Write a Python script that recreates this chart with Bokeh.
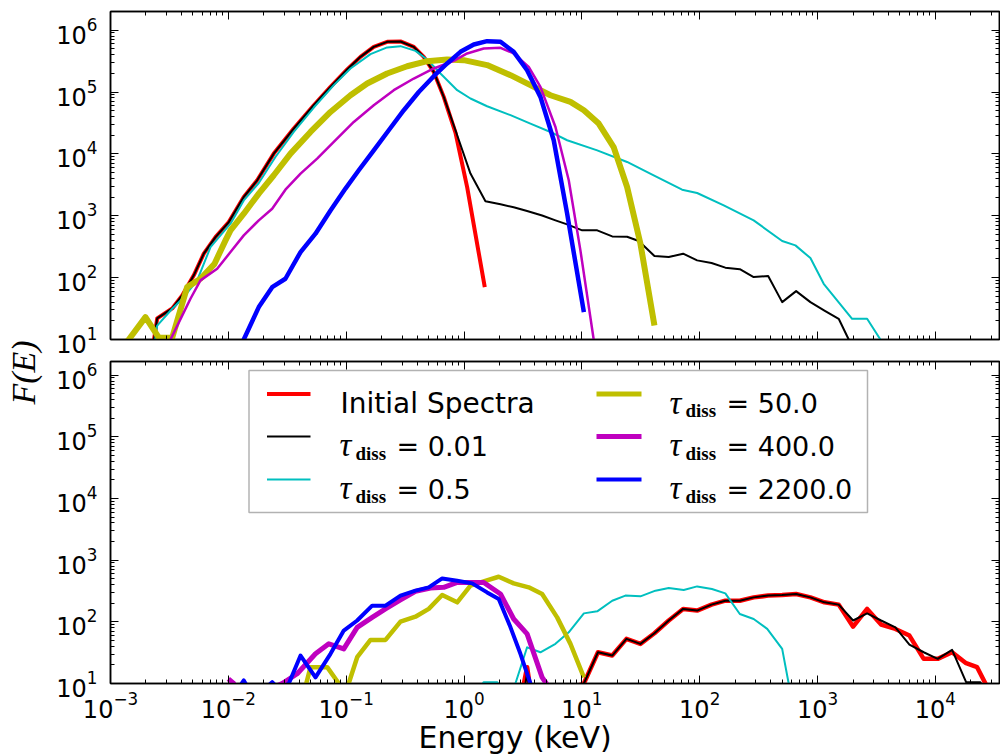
import math
from bokeh.plotting import figure
from bokeh.models import (Range1d, LogAxis, FixedTicker, Label, BoxAnnotation, ColumnDataSource,
                          CustomJSTickFormatter, Title)
from bokeh.layouts import row, column
from bokeh.embed import file_html
from bokeh.resources import INLINE

# ---------------- data ----------------
# top panel
top_red_E = [0.00225, 0.00249, 0.00334, 0.00406, 0.00509, 0.00619, 0.00778, 0.01009, 0.01352, 0.01757, 0.0243,
             0.0359, 0.0531, 0.0736, 0.102, 0.1322, 0.1714, 0.2227, 0.289, 0.3748, 0.4553, 0.5535, 0.673,
             0.846, 1.063, 1.50]
top_red_F = [6, 21.9, 31.8, 51.5, 109, 244, 452, 791, 2010, 3740, 10100, 25600, 61100, 121000, 231000,
             370000, 537000, 647000, 656000, 537000, 370000, 211000, 83400, 22000, 2900, 70.2]

top_blk_E = [0.00225, 0.00249, 0.00334, 0.00406, 0.00509, 0.00619, 0.00778, 0.01009, 0.01352, 0.01757, 0.0243,
             0.0359, 0.0531, 0.0736, 0.102, 0.1322, 0.1714, 0.2227, 0.289, 0.3748, 0.4553, 0.5535, 0.673,
             0.846, 1.134, 1.52, 2.04, 2.64, 3.43, 4.60, 5.97, 7.50, 10.06, 13.5, 18.1, 24.2, 30.4, 41.3, 54.6,
             72.3, 95.1, 126, 165, 219, 287, 381, 501, 658, 870, 1144, 1512, 1839, 2300]
top_blk_F = [6, 21.9, 31.8, 51.5, 109, 244, 452, 791, 2010, 3740, 10100, 25600, 61100, 121000, 231000,
             370000, 537000, 647000, 656000, 537000, 370000, 211000, 83400, 24100, 4800, 1710, 1530, 1370,
             1190, 1010, 843, 726, 581, 581, 464, 457, 390, 223, 215, 244, 190, 172, 145, 137, 102, 106, 40.2,
             60.5, 40.2, 29.4, 21.6, 10, 5]

top_cyn_E = [0.00235, 0.00249, 0.00334, 0.00419, 0.00544, 0.00706, 0.01043, 0.01352, 0.01813, 0.0251, 0.0359,
             0.0531, 0.0785, 0.1088, 0.1608, 0.2227, 0.289, 0.387, 0.4867, 0.631, 0.875, 1.134, 1.57, 2.48,
             3.66, 5.41, 7.50, 13.5, 24.2, 40.7, 70.9, 95.1, 160, 287, 501, 649, 870, 1128, 1965, 2634, 3416,
             4200]
top_cyn_F = [8, 16.8, 31.4, 48.3, 90.2, 312, 745, 1770, 3380, 8910, 22600, 56100, 129000, 240000, 409000,
             525000, 551000, 462000, 336000, 199000, 107000, 78500, 58900, 42200, 30900, 22600, 16600, 11400,
             7400, 4510, 2640, 2330, 1470, 843, 390, 332, 207, 79.6, 21.6, 21.6, 10, 5]

top_yel_E = [0.00128, 0.00143, 0.00198, 0.00257, 0.00334, 0.00447, 0.0058, 0.0076, 0.00946, 0.01043, 0.01352,
             0.01813, 0.0243, 0.0337, 0.0498, 0.0736, 0.1088, 0.1507, 0.2227, 0.3293, 0.4867, 0.719, 0.995,
             1.57, 2.48, 3.66, 5.41, 8.0, 10.4, 13.9, 18.6, 24.2, 31.4, 41.3]
top_yel_F = [8, 10, 23.0, 10.7, 10.7, 70.2, 95.9, 165, 400, 581, 1080, 2280, 4510, 10100, 22600, 47600, 88700,
             137000, 199000, 261000, 315000, 336000, 327000, 272000, 187000, 129000, 88700, 69200, 50800,
             30900, 12900, 2910, 354, 16.8]

top_mag_E = [0.00300, 0.00323, 0.0040, 0.00477, 0.0058, 0.00804, 0.01043, 0.01352, 0.01813, 0.02355, 0.0305,
             0.041, 0.0567, 0.0785, 0.116, 0.1714, 0.2534, 0.3748, 0.5535, 0.818, 1.063, 1.47, 2.04, 2.64,
             3.54, 4.45, 5.97, 7.74, 9.72, 12.6]
top_mag_F = [6, 10, 23, 45.6, 90.2, 139, 259, 482, 843, 1300, 2640, 4800, 8400, 15600, 32800, 61100, 107000,
             165000, 240000, 319000, 420000, 506000, 518000, 420000, 255000, 121000, 27200, 3740, 276, 10]

top_blu_E = [0.01250, 0.01352, 0.01813, 0.02355, 0.0305, 0.041, 0.0549, 0.0736, 0.0986, 0.1279, 0.1714,
             0.2298, 0.3083, 0.413, 0.5535, 0.719, 0.933, 1.21, 1.57, 2.04, 2.64, 3.43, 4.45, 5.77, 7.50, 10.4]
top_blu_F = [6, 10, 33.4, 70.2, 95.9, 259, 513, 1220, 2750, 5430, 11400, 24100, 50800, 100000, 180000, 289000,
             446000, 587000, 664000, 647000, 446000, 225000, 83400, 16600, 1080, 27.7]

# bottom panel
bot_red_E = [3.0, 3.43, 3.8, 10.4, 13.7, 18.1, 23.9, 31.4, 41.3, 54.6, 72.3, 95.1, 126, 165, 219, 287, 381,
             501, 658, 870, 1144, 1512, 2004, 2634, 3462, 4578, 6020, 7960, 10460, 13860, 18230, 22600,
             26600, 30000]
bot_red_F = [5, 18.4, 5, 10, 32.1, 28.4, 52.9, 43.9, 65.2, 105, 162, 152, 190, 220, 220, 249, 266, 272, 282,
             249, 207, 190, 83.5, 162, 90.2, 76.7, 59.8, 25.1, 25.1, 32.1, 21.3, 18.4, 10, 5]

bot_blk_E = [3.15, 3.43, 3.7, 10.4, 13.7, 18.1, 23.9, 31.4, 41.3, 54.6, 72.3, 95.1, 126, 165, 219, 287, 381,
             501, 658, 870, 1144, 1512, 2004, 2634, 3462, 4578, 6020, 7960, 10460, 13860, 18230, 24100, 29300]
bot_blk_F = [5, 15, 5, 10, 32.1, 28.4, 52.9, 43.9, 65.2, 105, 162, 152, 190, 220, 220, 249, 266, 272, 282,
             249, 207, 190, 105, 137, 105, 81.4, 42.7, 32.1, 25.1, 35.1, 10.5, 10.5, 5]

bot_cyn_E = [1.326, 1.47, 1.91, 2.12, 2.48, 2.73, 3.43, 4.45, 5.97, 7.74, 10.4, 13.5, 18.1, 23.4, 31.4, 42.1,
             54.6, 73.2, 95.1, 127, 165, 219, 287, 374, 501, 569, 650]
bot_cyn_F = [8, 10.5, 10.5, 8, 7, 10, 38.6, 32.1, 43.9, 67.6, 137, 148, 220, 266, 259, 320, 354, 328, 375,
             340, 289, 134, 111, 76.7, 36.4, 10, 5]

bot_yel_E = [0.041, 0.0452, 0.0498, 0.069, 0.0866, 0.0948, 0.105, 0.124, 0.1608, 0.2156, 0.289, 0.387,
             0.502, 0.6525, 0.875, 1.134, 1.47, 1.97, 2.64, 3.54, 4.60, 6.17, 8.0, 10.4]
bot_yel_F = [5, 9, 18.4, 18.4, 10, 7, 10, 26.7, 50.9, 50.9, 101, 121, 162, 272, 207, 385, 452, 538, 420, 362,
             282, 118, 43.9, 12.6]

bot_mag_E = [0.0100, 0.0111, 0.0125, 0.0286, 0.0384, 0.0549, 0.0712, 0.0954, 0.124, 0.1662, 0.2156, 0.289,
             0.387, 0.519, 0.673, 0.875, 1.134, 1.47, 2.04, 2.64, 3.43, 4.60, 4.99, 5.5]
bot_mag_F = [11.9, 10, 5, 10, 14.4, 30.3, 43.9, 36.4, 81.4, 118, 162, 226, 312, 354, 362, 435, 435, 435, 282,
             111, 63.7, 12.6, 10, 5]

bot_blu_E = [0.0120, 0.01352, 0.0150, 0.0200, 0.02355, 0.0270, 0.0326, 0.041, 0.0549, 0.0736, 0.0954, 0.124,
             0.1662, 0.2156, 0.289, 0.387, 0.502, 0.6525, 0.875, 1.172, 1.57, 1.97, 2.48, 3.01, 3.66, 4.45]
bot_blu_F = [8, 11.2, 8, 8, 10.5, 8, 10, 28.4, 12.6, 30.3, 72.1, 105, 183, 183, 266, 320, 362, 505, 464, 420,
             300, 235, 81.4, 30.3, 10, 5]

legend_labels = ["Initial Spectra", "0.01", "0.5", "50.0", "400.0", "2200.0"]
x_ticks = [1e-3, 1e-2, 1e-1, 1e0, 1e1, 1e2, 1e3, 1e4]
y_ticks = [1e1, 1e2, 1e3, 1e4, 1e5, 1e6]

# ---------------- styling ----------------
RED, BLK, CYN, YEL, MAG, BLU = "#ff0000", "#000000", "#00bfbf", "#bfbf00", "#bf00bf", "#0000ff"
X_RANGE = (1e-3, 3.5e4)
Y_RANGE_TOP = (10, 2.0e6)
Y_RANGE_BOT = (10, 1.66e6)
x_minor = [m * 10.0 ** k for k in range(-3, 5) for m in range(2, 10)]
y_minor = [m * 10.0 ** k for k in range(1, 7) for m in range(2, 10)]

PANEL_W = 955
ML = 65


def tick_style(ax):
    ax.axis_line_color = "black"
    ax.axis_line_width = 1.5
    ax.major_tick_in = 8
    ax.major_tick_out = 0
    ax.minor_tick_in = 4
    ax.minor_tick_out = 0
    ax.major_tick_line_color = "black"
    ax.minor_tick_line_color = "black"
    ax.major_tick_line_width = 1
    ax.minor_tick_line_width = 1
    ax.major_label_text_color = "black"
    ax.major_label_text_font = "DejaVu Sans"


def hide_labels(ax):
    ax.formatter = CustomJSTickFormatter(code="return '';")
    ax.major_label_text_font_size = "2px"
    ax.major_label_standoff = 0


def make_panel(height, top_b, bot_b, y_range, show_x_labels):
    p = figure(width=PANEL_W, height=height, x_axis_type="log", y_axis_type="log",
               x_range=Range1d(*X_RANGE), y_range=Range1d(*y_range),
               output_backend="svg", toolbar_location=None,
               min_border_left=ML, min_border_right=1, min_border_top=top_b, min_border_bottom=bot_b)
    p.add_layout(LogAxis(), "above")
    p.add_layout(LogAxis(), "right")
    p.xgrid.visible = False
    p.ygrid.visible = False
    p.outline_line_color = "black"
    p.outline_line_width = 1.5
    p.background_fill_color = "white"
    for ax in p.xaxis:
        ax.ticker = FixedTicker(ticks=x_ticks, minor_ticks=x_minor)
        tick_style(ax)
    for ax in p.yaxis:
        ax.ticker = FixedTicker(ticks=y_ticks, minor_ticks=y_minor)
        tick_style(ax)
    hide_labels(p.above[0])
    hide_labels(p.right[0])
    left = p.left[0]
    left.major_label_text_font_size = "24px"
    left.major_label_standoff = 13
    below = p.below[0]
    if show_x_labels:
        below.major_label_text_font_size = "24px"
        below.major_label_standoff = 7
    else:
        hide_labels(below)
    return p


def draw(p, E, F, color, width):
    p.line(E, F, line_color=color, line_width=width, line_join="round")


top = make_panel(360, 11, 21, Y_RANGE_TOP, False)
draw(top, top_red_E, top_red_F, RED, 4)
draw(top, top_blk_E, top_blk_F, BLK, 2)
draw(top, top_cyn_E, top_cyn_F, CYN, 2)
draw(top, top_yel_E, top_yel_F, YEL, 6)
draw(top, top_mag_E, top_mag_F, MAG, 2.5)
draw(top, top_blu_E, top_blu_F, BLU, 4.5)

bot = make_panel(395, 1, 72, Y_RANGE_BOT, True)
draw(bot, bot_red_E, bot_red_F, RED, 4.5)
draw(bot, bot_blk_E, bot_blk_F, BLK, 2)
draw(bot, bot_cyn_E, bot_cyn_F, CYN, 2)
draw(bot, bot_yel_E, bot_yel_F, YEL, 4.5)
draw(bot, bot_mag_E, bot_mag_F, MAG, 5)
draw(bot, bot_blu_E, bot_blu_F, BLU, 4)

# x-axis title, centred on the whole figure as in the original (left of the frame centre)
bot.add_layout(Title(text="Energy (keV)", align="left", offset=308, standoff=-5,
                     text_font="DejaVu Sans", text_font_style="normal", text_font_size="30px",
                     text_color="black", text_line_height=1.0), "below")

# ---------------- manual legend (page pixels -> data coords of bottom panel) ----------------
FR_L, FR_R, FR_T, FR_B = 110, 999, 361, 683
LX0, LX1 = math.log10(X_RANGE[0]), math.log10(X_RANGE[1])
LY0, LY1 = math.log10(Y_RANGE_BOT[0]), math.log10(Y_RANGE_BOT[1])


def x_of(px):
    return 10 ** (LX0 + (px - FR_L) / (FR_R - FR_L) * (LX1 - LX0))


def y_of(py):
    return 10 ** (LY0 + (FR_B - py) / (FR_B - FR_T) * (LY1 - LY0))


bot.add_layout(BoxAnnotation(left=x_of(248.5), right=x_of(867), top=y_of(370), bottom=y_of(512),
                             fill_color="white", fill_alpha=1.0, line_color="black", line_width=1.5))

leg_colors = [RED, BLK, CYN, YEL, MAG, BLU]
leg_widths = [4, 2, 2, 5, 5, 4]
row_c = [393.5, 436, 479]
col_line = [(266.5, 310), (596, 641)]
col_text = [339, 669]
seg = dict(x0=[], x1=[], y0=[], y1=[], c=[], w=[])
for i, lab in enumerate(legend_labels):
    ci, ri = divmod(i, 3)
    yc = row_c[ri]
    seg["x0"].append(x_of(col_line[ci][0]))
    seg["x1"].append(x_of(col_line[ci][1]))
    seg["y0"].append(y_of(yc))
    seg["y1"].append(y_of(yc))
    seg["c"].append(leg_colors[i])
    seg["w"].append(leg_widths[i])
    tx = col_text[ci]
    if i == 0:
        bot.add_layout(Label(x=x_of(tx + 1), y=y_of(yc + 9.5), text=lab, text_font="DejaVu Sans",
                             text_font_size="28px", text_color="black", text_baseline="alphabetic"))
    else:
        bot.add_layout(Label(x=x_of(tx), y=y_of(yc + 8.5), text="τ", text_font="Liberation Serif",
                             text_font_style="italic", text_font_size="33px", text_color="black",
                             text_baseline="alphabetic"))
        bot.add_layout(Label(x=x_of(tx + 16), y=y_of(yc + 16.5), text="diss", text_font="Liberation Serif",
                             text_font_style="bold", text_font_size="19px", text_color="black",
                             text_baseline="alphabetic"))
        bot.add_layout(Label(x=x_of(tx + 57), y=y_of(yc + 9.5), text="= " + lab, text_font="DejaVu Sans",
                             text_font_size="27px", text_color="black", text_baseline="alphabetic"))
bot.segment(x0="x0", y0="y0", x1="x1", y1="y1", line_color="c", line_width="w",
            source=ColumnDataSource(seg), level="overlay")

# ---------------- shared y-axis label ----------------
lab = figure(width=45, height=755, x_range=Range1d(0, 1), y_range=Range1d(0, 1),
             x_axis_location=None, y_axis_location=None, toolbar_location=None,
             output_backend="svg", min_border=0)
lab.outline_line_color = None
lab.grid.visible = False
lab.add_layout(Label(x=0.52, y=1 - 372 / 755, text="F(E)", angle=math.pi / 2, text_align="center",
                     text_baseline="middle", text_font="Liberation Serif", text_font_style="italic",
                     text_font_size="34px", text_color="black"))

layout = row(lab, column(top, bot))
open("out.html", "w").write(file_html(layout, INLINE))
